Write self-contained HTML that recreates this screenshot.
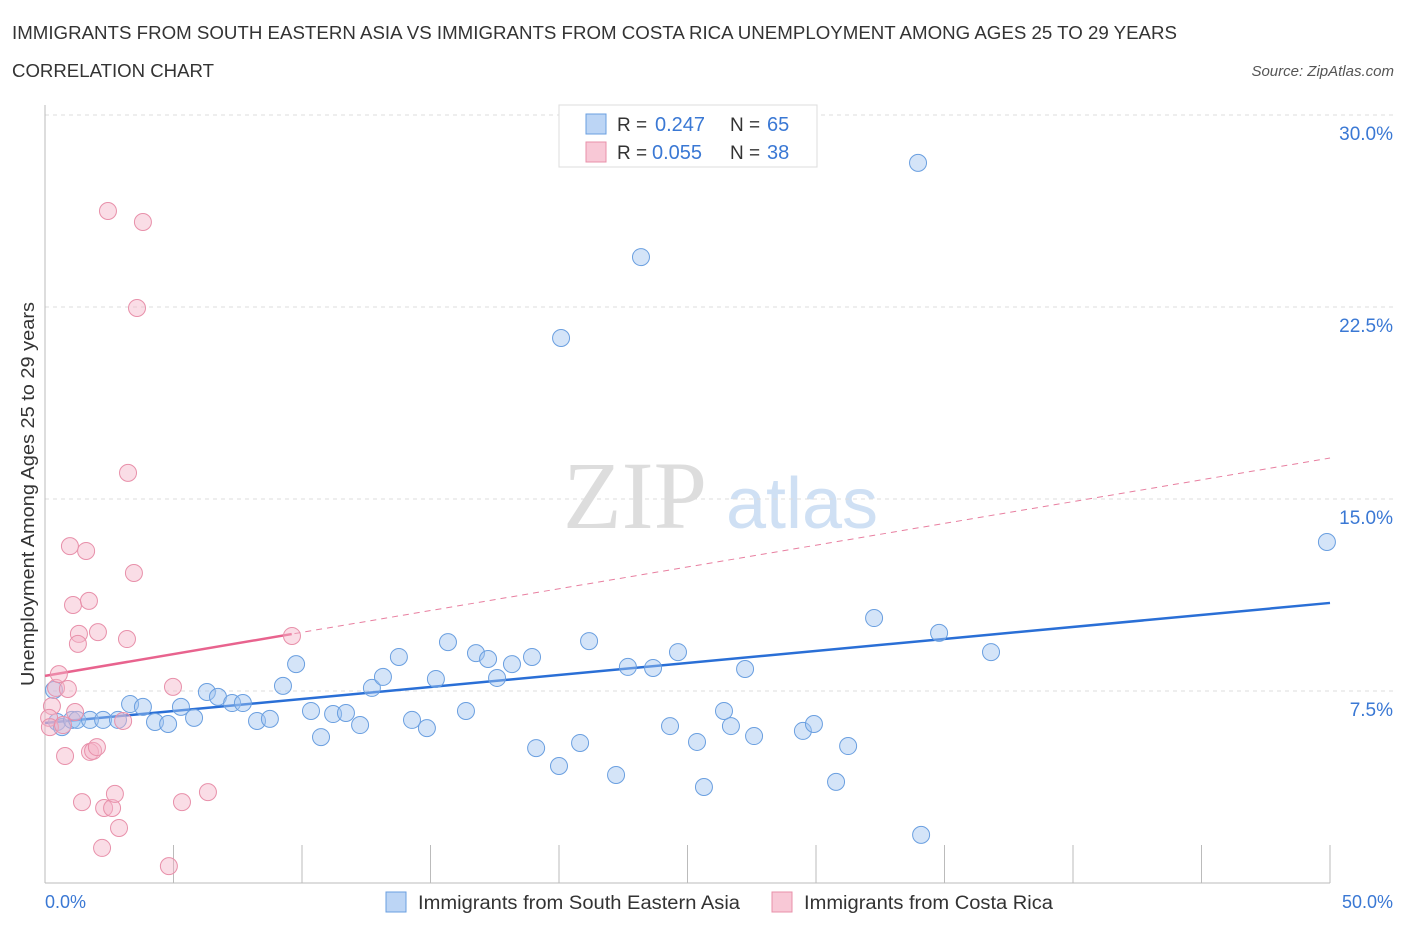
<!DOCTYPE html>
<html><head><meta charset="utf-8"><style>
body{margin:0;background:#fff;font-family:"Liberation Sans",sans-serif;}
svg text{font-family:"Liberation Sans",sans-serif;}
</style></head><body>
<svg id="c" width="1406" height="930" viewBox="0 0 1406 930">
<text x="12" y="39" font-size="18" fill="#333" textLength="1165" lengthAdjust="spacingAndGlyphs">IMMIGRANTS FROM SOUTH EASTERN ASIA VS IMMIGRANTS FROM COSTA RICA UNEMPLOYMENT AMONG AGES 25 TO 29 YEARS</text>
<text x="12" y="77" font-size="18" fill="#333" textLength="202" lengthAdjust="spacingAndGlyphs">CORRELATION CHART</text>
<text x="1394" y="76" font-size="15" fill="#555" text-anchor="end" font-style="italic">Source: ZipAtlas.com</text>
<g>
<text x="635" y="528" font-size="96" fill="#ddd" text-anchor="middle" font-family="Liberation Serif, serif" style="font-family:'Liberation Serif',serif">ZIP</text>
<text x="802" y="528" font-size="72" fill="#cfe0f4" text-anchor="middle">atlas</text>
</g>
<g id="grid"></g>
<g id="axes"></g>
<g id="lines"></g>
<g id="pts"></g>
<text transform="translate(34,494) rotate(-90)" font-size="18" fill="#333" text-anchor="middle" textLength="384" lengthAdjust="spacingAndGlyphs">Unemployment Among Ages 25 to 29 years</text>
<text x="45" y="908" font-size="18" fill="#3a78d4">0.0%</text>
<text x="1393" y="908" font-size="18" fill="#3a78d4" text-anchor="end">50.0%</text>
<g>
<rect x="559" y="105" width="258" height="62" fill="#fff" stroke="#ddd"/>
<rect x="586" y="114" width="20" height="20" fill="#bcd5f5" stroke="#6a9fe0"/>
<text x="617" y="131" font-size="19" fill="#333">R = </text><text x="655" y="131" font-size="20" fill="#3a78d4">0.247</text>
<text x="730" y="131" font-size="19" fill="#333">N = </text><text x="767" y="131" font-size="20" fill="#3a78d4">65</text>
<rect x="586" y="142" width="20" height="20" fill="#f8c8d6" stroke="#e890aa"/>
<text x="617" y="159" font-size="19" fill="#333">R = </text><text x="652" y="159" font-size="20" fill="#3a78d4">0.055</text>
<text x="730" y="159" font-size="19" fill="#333">N = </text><text x="767" y="159" font-size="20" fill="#3a78d4">38</text>
</g>
<g>
<rect x="386" y="892" width="20" height="20" fill="#bcd5f5" stroke="#6a9fe0"/>
<text x="418" y="909" font-size="19" fill="#333" textLength="322" lengthAdjust="spacingAndGlyphs">Immigrants from South Eastern Asia</text>
<rect x="772" y="892" width="20" height="20" fill="#f8c8d6" stroke="#e890aa"/>
<text x="804" y="909" font-size="19" fill="#333" textLength="249" lengthAdjust="spacingAndGlyphs">Immigrants from Costa Rica</text>
</g>
</svg>
<script>
const yTicks=[7.5,15,22.5,30];
const yTickLabels=["7.5%","15.0%","22.5%","30.0%"];
const xTicks=[5,10,15,20,25,30,35,40,45,50];
const blueX=[0.35,0.47,0.66,1.05,1.25,1.75,2.26,2.84,3.31,3.81,4.28,4.79,5.29,5.80,6.30,6.73,7.28,7.70,8.25,8.75,9.26,9.77,10.35,10.74,11.21,11.71,12.26,12.72,13.15,13.77,14.28,14.86,15.21,15.68,16.38,16.77,17.24,17.59,18.17,18.95,19.11,20.00,20.08,20.82,21.17,22.22,22.68,23.19,23.66,24.32,24.63,25.37,25.64,26.42,26.69,27.24,27.59,29.49,29.92,30.78,31.25,32.26,33.97,34.09,34.79,36.81,49.88];
const blueY=[7.54,6.29,6.09,6.37,6.37,6.37,6.37,6.37,6.99,6.88,6.29,6.21,6.88,6.45,7.46,7.27,7.03,7.03,6.33,6.41,7.70,8.55,6.72,5.70,6.60,6.64,6.17,7.62,8.05,8.83,6.37,6.05,7.97,9.41,6.72,8.98,8.75,8.01,8.55,8.83,5.27,4.57,21.29,5.47,9.45,4.22,8.44,24.45,8.40,6.13,9.02,5.51,3.75,6.72,6.13,8.36,5.74,5.94,6.21,3.95,5.35,10.35,28.13,1.88,9.77,9.02,13.32];
const pinkX=[0.27,0.16,0.19,0.43,0.54,0.70,0.89,0.97,1.60,1.09,1.71,1.32,1.28,2.06,2.45,3.81,3.58,3.23,3.46,3.19,1.17,0.78,1.75,1.87,2.02,1.44,2.30,2.61,2.72,2.88,2.22,4.98,5.33,6.34,4.82,3.04,9.61];
const pinkY=[6.91,6.45,6.09,7.62,8.16,6.17,7.58,13.16,12.97,10.86,11.02,9.73,9.34,9.80,26.25,25.82,22.46,16.02,12.11,9.53,6.68,4.96,5.12,5.16,5.31,3.16,2.93,2.93,3.48,2.15,1.37,7.66,3.16,3.55,0.66,6.33,9.65];
const blueTrend=[6.25,10.94];
const pinkTrend=[8.09,16.6];
const pinkSolidEnd=9.6;
const NS="http://www.w3.org/2000/svg";
const X=v=>45+v/50*1285, Y=v=>883-v/30*768;
function mk(t,a,p){const e=document.createElementNS(NS,t);for(const k in a)e.setAttribute(k,a[k]);document.getElementById(p).appendChild(e);return e;}
yTicks.forEach((t,i)=>{
 const g=mk('line',{x1:45,x2:1393,y1:Y(t),y2:Y(t),stroke:'#ddd','stroke-dasharray':'4,4'},'grid');
 
 
 const l=mk('text',{x:1393,y:Y(t)+25,'font-size':19,fill:'#3a78d4','text-anchor':'end'},'grid');
 l.textContent=yTickLabels[i];
 
 
});
const ax=mk('line',{x1:45,x2:45,y1:105,y2:883,stroke:'#bbb'},'axes');


const bx=mk('line',{x1:45,x2:1330,y1:883,y2:883,stroke:'#bbb'},'axes');


xTicks.forEach(t=>{
 const e=mk('line',{x1:X(t),x2:X(t),y1:845,y2:883,stroke:'#bbb'},'axes');
 
 
});
let e=mk('line',{x1:X(0),y1:Y(pinkTrend[0]),x2:X(50),y2:Y(pinkTrend[1]),stroke:'#e87fa0','stroke-width':1,'stroke-dasharray':'6,5'},'lines');


const pe=pinkTrend[0]+(pinkTrend[1]-pinkTrend[0])*pinkSolidEnd/50;
e=mk('line',{x1:X(0),y1:Y(pinkTrend[0]),x2:X(pinkSolidEnd),y2:Y(pe),stroke:'#e8638e','stroke-width':2.5},'lines');


e=mk('line',{x1:X(0),y1:Y(blueTrend[0]),x2:X(50),y2:Y(blueTrend[1]),stroke:'#2a6fd6','stroke-width':2.5},'lines');


blueX.forEach((x,i)=>{
 const c=mk('circle',{cx:X(x),cy:Y(blueY[i]),r:8.5,fill:'rgba(160,196,240,0.45)',stroke:'#6a9fe0','stroke-width':1},'pts');
 
 
});
pinkX.forEach((x,i)=>{
 const c=mk('circle',{cx:X(x),cy:Y(pinkY[i]),r:8.5,fill:'rgba(245,180,200,0.45)',stroke:'#e890aa','stroke-width':1},'pts');
 
 
});
</script>
</body></html>
